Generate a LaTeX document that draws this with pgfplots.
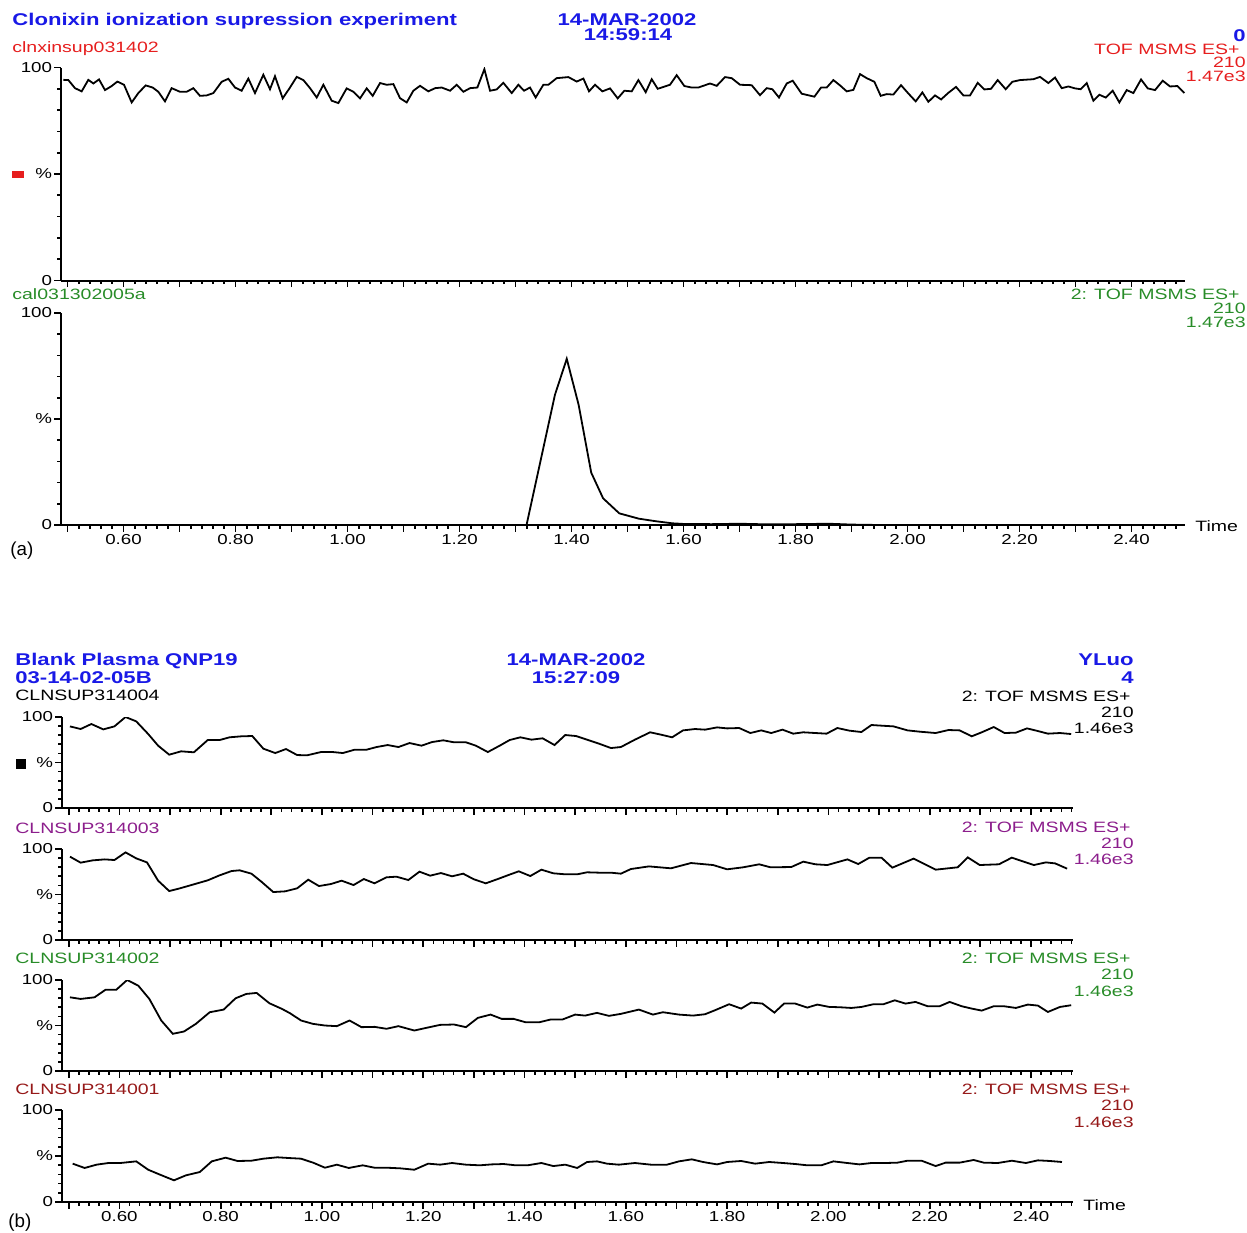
\documentclass[border=0pt]{standalone}
\usepackage{pgfplots}
\pgfplotsset{compat=1.18}
\usepackage{fontspec}
\setmainfont{Liberation Sans}[FakeStretch=1.3]
\newfontfamily\plainsf{Liberation Sans}
\definecolor{tblue}{RGB}{25,25,230}
\definecolor{tred}{RGB}{230,30,30}
\definecolor{tgreen}{RGB}{40,140,40}
\definecolor{tpurple}{RGB}{140,30,140}
\definecolor{tdred}{RGB}{150,25,25}
\newcommand\fl{\fontsize{7.5}{8.5}\selectfont}
\newcommand\ft{\fontsize{8.5}{9.5}\selectfont\bfseries}
\pgfplotsset{
  chrom/.style={
    scale only axis, anchor=south west,
    axis x line=bottom, axis y line=left,
    axis line style={-, line width=1pt},
    ymin=0, ymax=100,
    ytick={0,50,100}, yticklabels={0,\%,100},
    minor ytick={10,20,30,40,60,70,80,90},
    xtick={0.5,0.6,0.7,0.8,0.9,1.0,1.1,1.2,1.3,1.4,1.5,1.6,1.7,1.8,1.9,2.0,2.1,2.2,2.3,2.4},
    minor xtick={0.52,0.54,0.56,0.58,0.62,0.64,0.66,0.68,0.72,0.74,0.76,0.78,0.82,0.84,0.86,0.88,0.92,0.94,0.96,0.98,1.02,1.04,1.06,1.08,1.12,1.14,1.16,1.18,1.22,1.24,1.26,1.28,1.32,1.34,1.36,1.38,1.42,1.44,1.46,1.48,1.52,1.54,1.56,1.58,1.62,1.64,1.66,1.68,1.72,1.74,1.76,1.78,1.82,1.84,1.86,1.88,1.92,1.94,1.96,1.98,2.02,2.04,2.06,2.08,2.12,2.14,2.16,2.18,2.22,2.24,2.26,2.28,2.32,2.34,2.36,2.38,2.42,2.44,2.46,2.48},
    tick align=outside,
    major tick length=3.3pt, minor tick length=1.8pt,
    every tick/.style={black, line width=0.85pt},
    tick label style={font=\fontsize{7.2}{8}\selectfont},
    yticklabel style={inner sep=1pt},
    xticklabel style={inner sep=1pt},
  },
  trace/.style={black, line width=0.9pt, mark=none},
  botlabels/.style={xticklabels={,0.60,,0.80,,1.00,,1.20,,1.40,,1.60,,1.80,,2.00,,2.20,,2.40}},
  nolabels/.style={xticklabels={}},
}
\begin{document}
\begin{tikzpicture}
\path[use as bounding box] (0,0) rectangle (623.5pt,-616pt);
% ---------- panel (a) top
\begin{axis}[chrom, nolabels, at={(30.5pt,-140.25pt)}, width=562pt, height=106.5pt, xmin=0.4884, xmax=2.4955]
\addplot[trace] coordinates {(0.4926,94.2)(0.5015,94.1)(0.5134,90.3)(0.5253,88.8)(0.5372,94.2)(0.5462,92.5)(0.5563,94.4)(0.5670,89.4)(0.5789,91.3)(0.5890,93.4)(0.6009,91.9)(0.6146,83.6)(0.6265,88.0)(0.6396,91.6)(0.6521,90.6)(0.6622,88.6)(0.6741,84.1)(0.6860,90.3)(0.7009,88.6)(0.7128,88.6)(0.7247,90.3)(0.7366,86.7)(0.7485,86.9)(0.7605,88.0)(0.7753,93.3)(0.7872,94.7)(0.7991,90.6)(0.8110,89.1)(0.8229,94.8)(0.8348,88.0)(0.8497,96.6)(0.8616,89.8)(0.8705,95.9)(0.8843,85.5)(0.8973,90.6)(0.9093,95.6)(0.9212,94.1)(0.9331,90.3)(0.9450,85.9)(0.9569,91.9)(0.9718,84.4)(0.9837,83.3)(0.9985,90.2)(1.0104,88.6)(1.0224,85.5)(1.0343,90.2)(1.0450,86.7)(1.0581,92.7)(1.0700,91.9)(1.0819,92.2)(1.0938,85.6)(1.1057,83.6)(1.1176,89.1)(1.1295,91.4)
(1.1444,88.8)(1.1563,90.3)(1.1682,90.6)(1.1831,89.1)(1.1950,91.9)(1.2069,88.6)(1.2188,90.3)(1.2319,90.6)(1.2444,99.2)(1.2545,89.1)(1.2664,89.7)(1.2783,92.8)(1.2932,88.0)(1.3051,91.9)(1.3152,89.1)(1.3259,90.6)(1.3360,85.9)(1.3497,91.9)(1.3587,91.9)(1.3735,95.0)(1.3944,95.5)(1.4093,93.4)(1.4212,94.8)(1.4313,88.8)(1.4420,91.9)(1.4551,88.8)(1.4688,90.2)(1.4825,85.5)(1.4944,89.1)(1.5075,88.8)(1.5194,94.1)(1.5325,88.4)(1.5432,94.5)(1.5539,90.0)(1.5759,91.9)(1.5878,96.4)(1.6015,91.3)(1.6146,90.6)(1.6265,90.6)(1.6473,92.5)(1.6593,91.4)(1.6741,95.5)(1.6860,95.0)(1.7009,91.9)(1.7217,91.7)(1.7366,87.0)(1.7485,90.3)(1.7586,89.8)(1.7705,85.9)(1.7843,92.5)(1.7950,93.8)(1.8110,87.7)(1.8337,86.3)(1.8456,90.6)(1.8557,90.6)(1.8676,94.1)(1.8795,91.6)
(1.8914,88.8)(1.9033,89.5)(1.9152,96.9)(1.9271,95.0)(1.9408,93.3)(1.9521,86.7)(1.9628,87.5)(1.9747,87.3)(1.9884,91.7)(2.0015,87.8)(2.0146,84.1)(2.0265,88.3)(2.0372,83.9)(2.0491,86.9)(2.0599,85.0)(2.0729,88.1)(2.0866,90.9)(2.0997,86.9)(2.1116,86.9)(2.1253,92.8)(2.1372,89.7)(2.1491,90.0)(2.1610,94.1)(2.1753,89.8)(2.1872,93.3)(2.2009,94.1)(2.2247,94.5)(2.2366,95.6)(2.2515,92.7)(2.2634,95.3)(2.2753,90.3)(2.2872,91.1)(2.2991,90.2)(2.3093,89.8)(2.3200,92.7)(2.3319,84.4)(2.3426,87.2)(2.3539,85.9)(2.3664,89.1)(2.3783,83.6)(2.3914,89.4)(2.4033,88.0)(2.4170,94.4)(2.4289,90.2)(2.4420,89.4)(2.4557,93.8)(2.4688,91.1)(2.4819,91.3)(2.4944,88.0)};
\end{axis}
% ---------- panel (a) bottom
\begin{axis}[chrom, botlabels, at={(30.5pt,-262.5pt)}, width=562pt, height=106pt, xmin=0.4884, xmax=2.4955]
\addplot[trace] coordinates {(0.49,0)(1.3197,0)(1.3704,61.4)(1.3915,78.4)(1.4127,56.7)(1.4352,24.7)(1.4564,12.6)(1.4853,5.5)(1.5200,3.0)(1.5500,1.8)(1.5800,0.8)(1.6000,0.5)(1.6500,0.4)(1.7000,0.6)(1.7500,0.3)(1.8000,0.4)(1.8600,0.6)(1.9000,0.2)(1.9500,0)(2.0000,0)};
\end{axis}
% ---------- panel (b) 1
\begin{axis}[chrom, nolabels, at={(31pt,-404pt)}, width=505.5pt, height=45.5pt, xmin=0.4867, xmax=2.483]
\addplot[trace] coordinates {(0.5024,89.7)(0.5235,86.8)(0.5447,92.3)(0.5682,86.4)(0.5902,89.7)(0.6122,100.0)(0.6333,95.2)(0.6569,81.3)(0.6765,68.5)(0.6984,58.6)(0.7220,62.3)(0.7471,61.2)(0.7745,74.7)(0.7980,74.7)(0.8176,77.7)(0.8412,78.8)(0.8624,79.1)(0.8843,65.2)(0.9078,60.4)(0.9290,64.8)(0.9510,58.2)(0.9706,57.9)(0.9980,61.5)(1.0216,61.5)(1.0412,60.4)(1.0647,64.1)(1.0882,64.1)(1.1078,67.0)(1.1298,69.2)(1.1510,67.0)(1.1729,71.4)(1.1965,68.5)(1.2176,72.5)(1.2396,74.4)(1.2608,72.2)(1.2843,72.2)(1.3039,68.5)(1.3275,61.5)(1.3510,68.5)(1.3706,74.7)(1.3918,77.7)(1.4137,75.1)(1.4357,76.6)(1.4592,69.2)(1.4804,80.2)(1.5016,79.1)(1.5235,75.1)(1.5471,70.7)(1.5706,65.9)(1.5902,67.0)
(1.6179,75.1)(1.6480,83.2)(1.6694,80.6)(1.6915,77.7)(1.7129,85.3)(1.7367,86.8)(1.7565,86.1)(1.7802,88.6)(1.8000,87.5)(1.8238,87.9)(1.8459,82.4)(1.8673,85.3)(1.8871,82.4)(1.9093,86.1)(1.9306,81.7)(1.9504,83.2)(1.9742,82.4)(1.9964,81.7)(2.0177,87.9)(2.0415,85.0)(2.0652,83.5)(2.0850,91.2)(2.1048,90.5)(2.1286,89.7)(2.1563,85.3)(2.1800,83.9)(2.2117,82.4)(2.2371,85.7)(2.2592,85.3)(2.2830,78.8)(2.3028,83.2)(2.3265,89.0)(2.3479,82.4)(2.3701,82.8)(2.3922,87.5)(2.4136,84.6)(2.4334,81.7)(2.4572,82.4)(2.4794,81.3)};
\end{axis}
% ---------- panel (b) 2
\begin{axis}[chrom, nolabels, at={(31pt,-470pt)}, width=505.5pt, height=45.5pt, xmin=0.4867, xmax=2.483]
\addplot[trace] coordinates {(0.5024,91.6)(0.5235,85.0)(0.5471,87.5)(0.5706,88.6)(0.5902,87.9)(0.6122,96.3)(0.6333,89.7)(0.6545,85.3)(0.6765,65.2)(0.6984,53.8)(0.7196,56.8)(0.7471,61.2)(0.7745,65.6)(0.7980,71.1)(0.8216,75.8)(0.8373,76.6)(0.8608,72.9)(0.8804,64.1)(0.9039,52.7)(0.9275,53.5)(0.9510,56.8)(0.9729,66.3)(0.9941,59.3)(1.0176,61.5)(1.0388,65.2)(1.0624,60.4)(1.0827,67.0)(1.1039,62.3)(1.1275,68.9)(1.1471,69.6)(1.1706,65.9)(1.1925,75.1)(1.2137,70.7)(1.2349,73.6)(1.2569,70.0)(1.2788,72.9)(1.3000,66.7)(1.3235,62.3)(1.3471,67.0)(1.3682,71.4)(1.3886,75.5)(1.4114,70.3)(1.4333,77.3)(1.4569,73.3)(1.4804,72.2)(1.5039,72.2)(1.5235,74.4)(1.5471,74.0)(1.5706,74.0)(1.5902,72.9)
(1.6100,78.0)(1.6456,80.9)(1.6892,78.8)(1.7287,84.6)(1.7723,82.4)(1.8000,77.7)(1.8317,79.9)(1.8634,83.2)(1.8856,79.9)(1.9267,80.2)(1.9505,86.1)(1.9743,83.2)(1.9979,82.4)(2.0375,88.6)(2.0589,83.5)(2.0811,90.5)(2.1048,90.5)(2.1262,79.5)(2.1682,89.4)(2.2117,77.3)(2.2553,79.9)(2.2751,90.8)(2.2988,82.4)(2.3368,83.2)(2.3622,90.5)(2.4057,82.4)(2.4295,85.3)(2.4477,84.2)(2.4714,78.4)};
\end{axis}
% ---------- panel (b) 3
\begin{axis}[chrom, nolabels, at={(31pt,-535.5pt)}, width=505.5pt, height=45.5pt, xmin=0.4867, xmax=2.483]
\addplot[trace] coordinates {(0.5024,81.0)(0.5235,79.2)(0.5510,81.0)(0.5729,89.4)(0.5941,89.4)(0.6153,100.0)(0.6373,93.8)(0.6592,79.2)(0.6827,55.5)(0.7055,40.9)(0.7275,43.4)(0.7510,51.8)(0.7784,64.6)(0.8059,67.5)(0.8294,79.9)(0.8506,84.7)(0.8710,85.8)(0.8961,74.5)(0.9212,68.2)(0.9369,63.5)(0.9588,55.5)(0.9824,51.8)(1.0059,50.0)(1.0294,49.3)(1.0545,55.5)(1.0780,48.2)(1.1039,48.5)(1.1275,46.4)(1.1510,49.3)(1.1824,44.5)(1.2059,47.4)(1.2333,50.7)(1.2608,51.1)(1.2843,48.2)(1.3078,58.4)(1.3329,62.0)(1.3549,57.3)(1.3784,57.3)(1.4020,53.6)(1.4294,53.6)(1.4514,56.6)(1.4749,56.6)(1.5000,62.0)(1.5196,60.9)(1.5431,63.9)(1.5667,60.6)(1.5902,62.8)
(1.6258,67.5)(1.6535,62.0)(1.6733,64.6)(1.7050,62.0)(1.7327,60.9)(1.7565,62.4)(1.7762,66.8)(1.8040,73.4)(1.8277,68.6)(1.8475,75.2)(1.8697,74.1)(1.8934,64.2)(1.9124,74.1)(1.9346,74.1)(1.9584,69.7)(1.9781,73.0)(2.0019,70.4)(2.0217,70.1)(2.0454,69.3)(2.0652,70.4)(2.0890,73.4)(2.1088,73.4)(2.1310,77.7)(2.1523,74.1)(2.1721,75.9)(2.1959,71.2)(2.2196,71.2)(2.2394,75.9)(2.2632,71.2)(2.2830,68.6)(2.3028,66.4)(2.3266,71.2)(2.3463,71.2)(2.3701,69.3)(2.3938,73.0)(2.4136,71.9)(2.4334,64.9)(2.4572,70.4)(2.4794,72.3)};
\end{axis}
% ---------- panel (b) 4
\begin{axis}[chrom, botlabels, at={(31pt,-601pt)}, width=505.5pt, height=46pt, xmin=0.4867, xmax=2.483]
\addplot[trace] coordinates {(0.5078,41.7)(0.5314,37.0)(0.5549,40.6)(0.5784,42.4)(0.6020,42.4)(0.6333,44.2)(0.6569,35.1)(0.6804,29.7)(0.7078,23.6)(0.7314,29.0)(0.7588,32.6)(0.7824,44.2)(0.8098,48.2)(0.8333,44.6)(0.8608,44.9)(0.8843,47.1)(0.9118,48.6)(0.9353,47.8)(0.9588,47.1)(0.9824,42.8)(1.0059,37.3)(1.0294,40.6)(1.0529,37.0)(1.0804,39.9)(1.1039,37.3)(1.1275,37.3)(1.1549,36.6)(1.1824,35.1)(1.2098,41.7)(1.2333,40.6)(1.2569,42.4)(1.2843,40.6)(1.3118,39.9)(1.3353,40.9)(1.3588,41.3)(1.3824,39.9)(1.4059,39.9)(1.4333,42.4)(1.4569,39.1)(1.4804,40.6)(1.5039,37.0)(1.5235,43.5)(1.5431,44.2)(1.5627,41.7)
(1.5862,40.6)(1.6179,42.4)(1.6496,40.6)(1.6812,40.6)(1.7050,44.2)(1.7303,46.4)(1.7525,43.5)(1.7802,40.9)(1.8000,43.5)(1.8277,44.6)(1.8554,41.7)(1.8831,43.5)(1.9108,42.4)(1.9346,41.3)(1.9584,39.9)(1.9861,39.9)(2.0098,44.2)(2.0375,42.4)(2.0613,40.9)(2.0850,42.4)(2.1128,42.4)(2.1365,42.8)(2.1563,44.9)(2.1840,44.9)(2.2117,39.1)(2.2315,42.8)(2.2592,42.8)(2.2869,45.7)(2.3067,42.8)(2.3344,42.4)(2.3622,44.9)(2.3899,42.4)(2.4136,45.3)(2.4374,44.6)(2.4612,43.5)};
\end{axis}
% ---------- texts (pixel coordinates)
\begin{scope}[x=0.5pt,y=-0.5pt, every node/.style={inner sep=0pt}]
% panel (a)
\node[anchor=base west, text=tblue, font=\ft] at (12,25) {Clonixin ionization supression experiment};
\node[anchor=base, text=tblue, font=\ft] at (627,25) {14-MAR-2002};
\node[anchor=base, text=tblue, font=\ft] at (628,40) {14:59:14};
\node[anchor=base east, text=tblue, font=\ft] at (1246,41) {0};
\node[anchor=base west, text=tred, font=\fl] at (12,52) {clnxinsup031402};
\node[anchor=base east, text=tred, font=\fl] at (1240,54) {TOF MSMS ES+};
\node[anchor=base east, text=tred, font=\fl] at (1246,67) {210};
\node[anchor=base east, text=tred, font=\fl] at (1246,81) {1.47e3};
\fill[tred] (12,171) rectangle (24,178);
\node[anchor=base west, text=tgreen, font=\fl] at (12,299) {cal031302005a};
\node[anchor=base east, text=tgreen, font=\fl] at (1240,299) {2: TOF MSMS ES+};
\node[anchor=base east, text=tgreen, font=\fl] at (1246,313) {210};
\node[anchor=base east, text=tgreen, font=\fl] at (1246,327) {1.47e3};
\node[anchor=base west, font=\fl] at (1195,531) {Time};
\node[anchor=base west, font=\plainsf\fontsize{9.4}{10}\selectfont] at (10,555) {(a)};
% panel (b)
\node[anchor=base west, text=tblue, font=\ft] at (15,665) {Blank Plasma QNP19};
\node[anchor=base west, text=tblue, font=\ft] at (15,683) {03-14-02-05B};
\node[anchor=base west, font=\fl] at (15,700) {CLNSUP314004};
\node[anchor=base, text=tblue, font=\ft] at (576,665) {14-MAR-2002};
\node[anchor=base, text=tblue, font=\ft] at (576,683) {15:27:09};
\node[anchor=base east, text=tblue, font=\ft] at (1134,665) {YLuo};
\node[anchor=base east, text=tblue, font=\ft] at (1134,683) {4};
\node[anchor=base east, font=\fl] at (1131,701) {2: TOF MSMS ES+};
\node[anchor=base east, font=\fl] at (1134,717) {210};
\node[anchor=base east, font=\fl] at (1134,733) {1.46e3};
\fill[black] (16,759) rectangle (26,769);
\node[anchor=base west, text=tpurple, font=\fl] at (15,833) {CLNSUP314003};
\node[anchor=base east, text=tpurple, font=\fl] at (1131,832) {2: TOF MSMS ES+};
\node[anchor=base east, text=tpurple, font=\fl] at (1134,848) {210};
\node[anchor=base east, text=tpurple, font=\fl] at (1134,864) {1.46e3};
\node[anchor=base west, text=tgreen, font=\fl] at (15,963) {CLNSUP314002};
\node[anchor=base east, text=tgreen, font=\fl] at (1131,963) {2: TOF MSMS ES+};
\node[anchor=base east, text=tgreen, font=\fl] at (1134,979) {210};
\node[anchor=base east, text=tgreen, font=\fl] at (1134,996) {1.46e3};
\node[anchor=base west, text=tdred, font=\fl] at (15,1094) {CLNSUP314001};
\node[anchor=base east, text=tdred, font=\fl] at (1131,1094) {2: TOF MSMS ES+};
\node[anchor=base east, text=tdred, font=\fl] at (1134,1110) {210};
\node[anchor=base east, text=tdred, font=\fl] at (1134,1127) {1.46e3};
\node[anchor=base west, font=\fl] at (1083,1210) {Time};
\node[anchor=base west, font=\plainsf\fontsize{9.4}{10}\selectfont] at (8,1227) {(b)};
\end{scope}
\end{tikzpicture}
\end{document}
